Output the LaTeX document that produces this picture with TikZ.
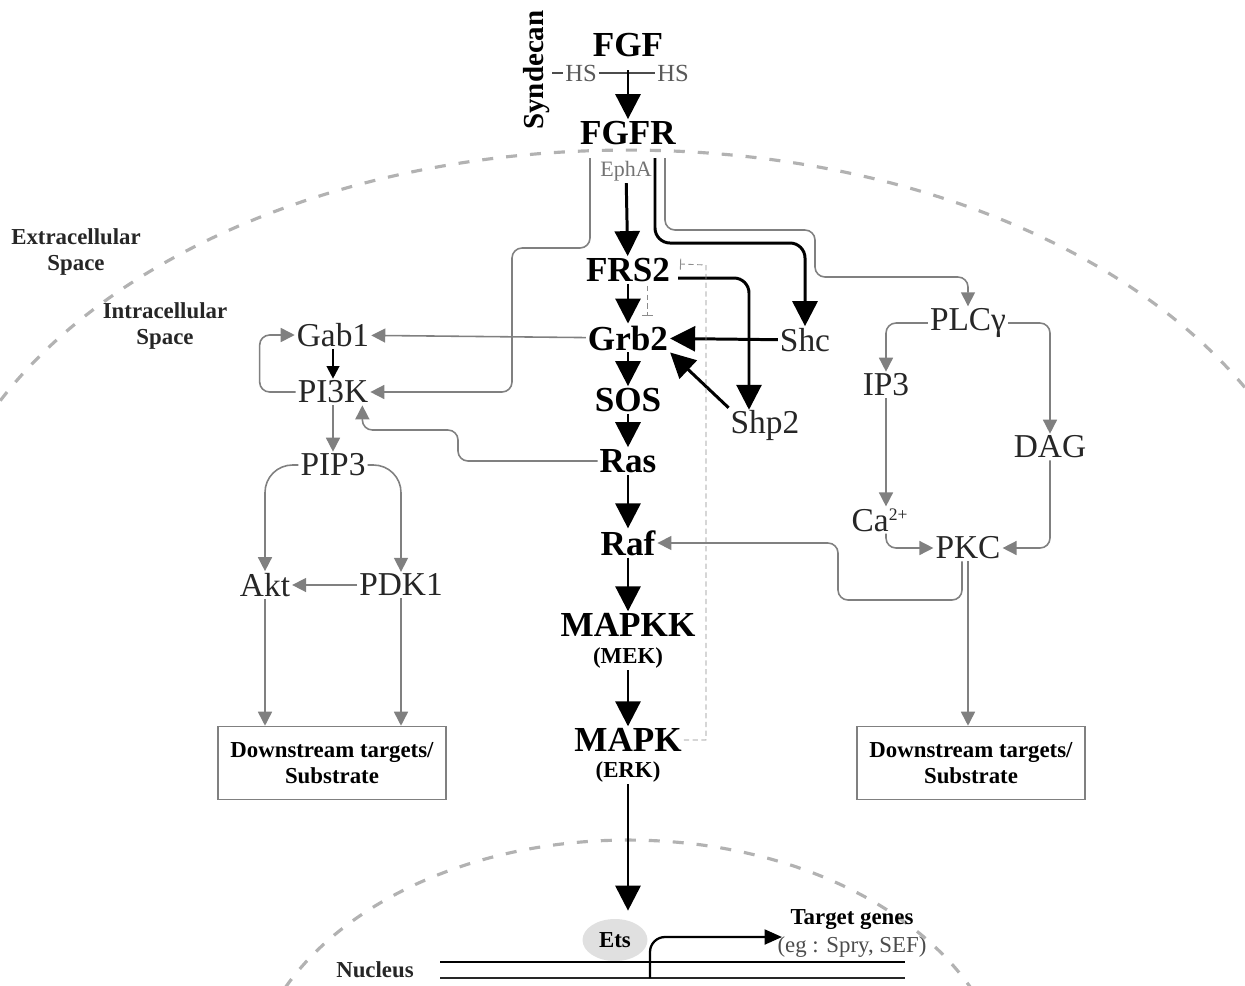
\documentclass[tikz,border=0pt]{standalone}
\usepackage{fontspec}
\setmainfont{Liberation Serif}
\usetikzlibrary{arrows.meta, positioning, shapes.geometric, calc}

\begin{document}
\begin{tikzpicture}[
    x=0.02cm, y=-0.02cm,
    >=Stealth,
    main/.style={font=\fontsize{20}{22}\selectfont\bfseries, inner sep=1pt},
    sub/.style={font=\fontsize{13}{15}\selectfont\bfseries, inner sep=1pt},
    mol/.style={font=\fontsize{19}{21}\selectfont, text=black!85, inner sep=1pt},
    small/.style={font=\fontsize{14}{16}\selectfont, text=black!65, inner sep=1pt},
    lbl/.style={font=\fontsize{13}{15}\selectfont\bfseries, align=center,
        text=black!85, inner sep=1pt},
    target/.style={draw=black!50, line width=0.9pt, align=center,
        font=\fontsize{13}{15}\selectfont\bfseries,
        minimum width=4.56cm, minimum height=1.46cm},
    strong/.style={-{Triangle[length=0.5cm, width=0.5cm]}, line width=1.7pt,
        rounded corners=0.3cm},
    weak/.style={-{Triangle[length=0.28cm, width=0.28cm]}, draw=black!50,
        line width=0.9pt, rounded corners=0.2cm},
    inhib/.style={-{Bar[width=0.22cm]}, draw=black!45, densely dashed,
        line width=0.5pt},
    membrane/.style={draw=black!30, line width=1.8pt,
        dash pattern=on 0.22cm off 0.26cm},
]
\useasboundingbox (0,0) rectangle (1245,985);

% === Membranes ===
\begin{scope}
\clip (0,0) rectangle (1245,985);
\draw[membrane] (-72,600) arc [start angle=180, end angle=0, x radius=14cm, y radius=9cm];
\draw[membrane] (248,1100) arc [start angle=180, end angle=0, x radius=7.6cm, y radius=5.2cm];
\end{scope}

\node[lbl] (extra) at (76,252) {Extracellular\\Space};
\node[lbl] (intra) at (165,326) {Intracellular\\Space};
\node[lbl] (nucl) at (375,970) {Nucleus};

% === Receptor ===
\node[main] (fgf) at (628,45) {FGF};
\node[small] (hsl) at (581,73) {HS};
\node[small] (hsr) at (673,73) {HS};
\node[main, font=\fontsize{16.5}{18}\selectfont\bfseries, rotate=90] (synd) at (537,70) {Syndecan};
\node[main] (fgfr) at (628,133) {FGFR};
\node[small, font=\fontsize{12.5}{14}\selectfont, text=black!55] (epha) at (626,171) {EphA};
\coordinate (hsmid) at (628,70);
\draw[black!70, line width=0.9pt] (hsl.west -| synd.south) -- (hsl.west);
\draw[black!70, line width=0.9pt] (hsl.east) -- (hsr.west);
\draw[strong] (hsmid) -- (fgfr);

% === MAPK cascade ===
\node[main] (frs2) at (628,270) {FRS2};
\node[main] (grb2) at (628,338) {Grb2};
\node[main] (sos) at (628,400) {SOS};
\node[main] (ras) at (628,461) {Ras};
\node[main] (raf) at (628,543) {Raf};
\node[main] (mapkk) at (628,625) {MAPKK};
\node[sub] (mek) at (628,658) {(MEK)};
\node[main] (mapk) at (628,740) {MAPK};
\node[sub] (erk) at (628,772) {(ERK)};
\node[ellipse, fill=black!12, minimum width=1.3cm, minimum height=0.84cm,
    inner sep=0pt, font=\fontsize{13}{15}\selectfont\bfseries] (ets) at (615,940) {Ets};

\draw[strong] (epha) -- (frs2);
\draw[strong] (frs2) -- (grb2);
\draw[strong] (grb2) -- (sos);
\draw[strong] (sos) -- (ras);
\draw[strong] (ras) -- (raf);
\draw[strong] (raf) -- (mapkk);
\draw[strong] (mek) -- (mapk);
\draw[strong] (erk.south) -- ($(erk.south |- ets.north)+(0,-8)$);

% === Shc / Shp2 ===
\node[mol] (shc) at (805,340) {Shc};
\node[mol] (shp2) at (765,425) {Shp2};
\coordinate (fgfrb) at (655,158);
\draw[strong] (fgfrb) -- (655,243) -| (shc.north);
\draw[strong] (shc) -- (grb2);
\draw[strong] ($(frs2.east)+(6,8)$) -| ($(shp2.north)+(-16,2)$);
\draw[strong] (shp2.north west) -- (grb2.south east);

% === Feedback ===
\draw[inhib] ($(frs2.south)+(19,2)$) -- ($(grb2.north)+(19,-8)$);
\draw[inhib] (mapk.east) -| (706,265) -- ($(frs2.east)+(8,-6)$);

% === PI3K branch ===
\node[mol] (gab1) at (333,335) {Gab1};
\node[mol] (pi3k) at (333,392) {PI3K};
\node[mol] (pip3) at (333,465) {PIP3};
\node[mol] (akt) at (265,585) {Akt};
\node[mol] (pdk1) at (401,585) {PDK1};
\node[target] (dsl) at (332,763) {Downstream targets/\\Substrate};
\coordinate (fgfra) at (590,158);
\draw[weak] (grb2) -- (gab1);
\draw[-{Triangle[length=0.25cm, width=0.25cm]}, line width=1.2pt] (gab1) -- (pi3k);
\draw[weak] (pi3k.west) -- ++(-36,0) |- (gab1.west);
\draw[weak] (fgfra) |- (512,248) |- (pi3k.east);
\draw[weak] (ras.west) -| (458,430) -| ($(pi3k.south east)+(-8,0)$);
\draw[weak] (pi3k) -- (pip3);
\draw[weak, rounded corners=0.55cm] (pip3.west) -| (akt.north);
\draw[weak, rounded corners=0.55cm] (pip3.east) -| (pdk1.north);
\draw[weak] (pdk1) -- (akt);
\draw[weak] (akt.south) -- (akt.south |- dsl.north);
\draw[weak] (pdk1.south) -- (pdk1.south |- dsl.north);

% === PLCgamma branch ===
\node[mol] (plcg) at (968,323) {PLCγ};
\node[mol] (ip3) at (886,385) {IP3};
\node[mol] (dag) at (1050,447) {DAG};
\node[mol] (ca) at (880,520) {Ca\textsuperscript{\fontsize{10}{11}\selectfont 2+}};
\node[mol] (pkc) at (968,548) {PKC};
\node[target] (dsr) at (971,763) {Downstream targets/\\Substrate};
\coordinate (fgfrc) at (665,158);
\draw[weak] (fgfrc) |- (815,230) |- (940,277) -| (plcg.north);
\draw[weak] (plcg.west) -| (ip3.north);
\draw[weak] (plcg.east) -| (dag.north);
\draw[weak] (ip3.south) -- (ip3.south |- ca.north);
\draw[weak] (ca.south -| ip3.south) |- (pkc.west);
\draw[weak] (dag.south) |- (pkc.east);
\draw[weak] ($(pkc.south)+(-6,0)$) |- (838,600) |- (raf.east);
\draw[weak] (pkc.south) -- (pkc.south |- dsr.north);

% === Nucleus ===
\node[lbl, text=black] (tg) at (852,920) {Target genes};
\node[font=\fontsize{13}{15}\selectfont, text=black!70, inner sep=1pt] (eg) at (852,947) {(eg : Spry, SEF)};
\coordinate (tss) at (650,978);
\coordinate (tgend) at (782,937);
\draw[line width=1.3pt] (440,962) -- (905,962);
\draw[line width=1.6pt, black!85] (440,978) -- (905,978);
\draw[-{Triangle[length=0.35cm, width=0.3cm]}, line width=1.3pt, rounded corners=0.3cm] (tss) |- (tgend);

\end{tikzpicture}
\end{document}
